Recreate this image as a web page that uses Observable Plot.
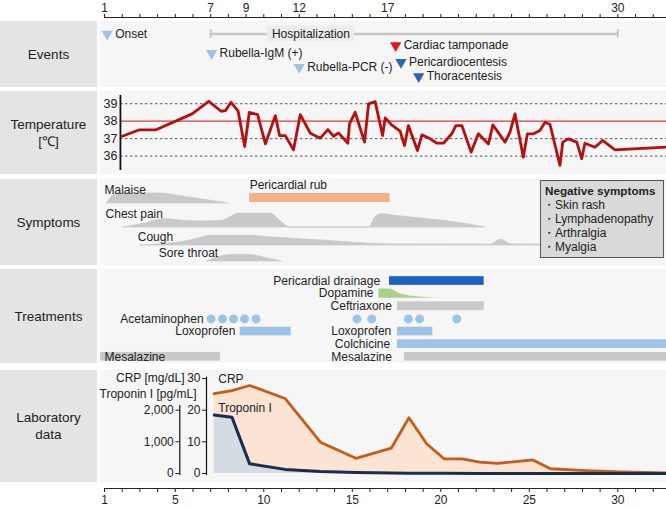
<!DOCTYPE html>
<html><head><meta charset="utf-8">
<script src="https://cdn.jsdelivr.net/npm/d3@7"></script>
<script src="https://cdn.jsdelivr.net/npm/@observablehq/plot@0.6"></script>
<style>
body{margin:0;background:#fff;font-family:"Liberation Sans",Arial,Helvetica,sans-serif;color:#222;}
#chart{position:relative;width:666px;height:508px;overflow:hidden;background:#fff;}
.lab{position:absolute;left:0;width:97px;background:#e4e4e4;display:flex;align-items:center;justify-content:center;text-align:center;font-size:13.5px;line-height:17px;color:#222;}
.bg{position:absolute;left:100px;width:566px;background:#f6f6f6;}
#neg{position:absolute;left:540px;top:180px;width:124px;height:78px;box-sizing:border-box;background:#d9d9d9;border:1px solid #555;font-size:12px;line-height:13.9px;padding:3px 0 0 4px;color:#222;}
#neg b{font-size:11.7px;}
</style></head>
<body><div id="chart"></div>
<script>
// ---------------- DATA ----------------
const topTickLabels = [1, 7, 9, 12, 17, 30];
const bottomTickLabels = [1, 5, 10, 15, 20, 25, 30];

const eventNames = ["Onset", "Rubella-IgM (+)", "Rubella-PCR (-)", "Cardiac tamponade", "Pericardiocentesis", "Thoracentesis"];
const eventDays  = [1.15, 7.05, 12.0, 17.45, 17.75, 18.75];
const eventKinds = ["test", "test", "test", "alert", "procedure", "procedure"];
const hospitalization = {label: "Hospitalization", start: 7, end: 30};

const tempDays = [2.0,2.94,3.88,5.95,6.89,7.59,7.83,8.15,8.55,8.92,9.18,9.65,10.09,10.65,10.89,11.21,11.68,12.06,12.63,13.19,13.62,13.94,14.22,14.75,14.84,15.16,15.69,15.92,16.29,16.71,16.86,17.2,17.7,17.95,18.17,18.68,18.93,19.34,19.78,20.15,20.62,20.85,21.19,21.71,22.12,22.69,22.94,23.63,23.91,24.19,24.66,24.89,25.23,25.6,25.89,26.17,26.73,26.89,27.2,27.68,27.96,28.14,28.71,29.14,29.84,32.75];
const tempValues = [37.14,37.5,37.5,38.42,39.14,38.57,38.6,39.08,38.57,36.55,38.5,38.38,36.7,38.32,37.18,37.18,36.36,38.38,37.31,37.03,37.52,37.14,37.33,36.74,37.85,38.51,36.8,38.99,39.12,37.18,38.19,37.81,37.43,36.61,37.75,36.32,37.22,37.03,36.74,36.74,37.28,37.75,37.75,36.23,37.28,36.7,37.79,36.8,37.37,38.42,35.94,37.28,37.28,37.47,37.94,37.81,35.47,36.8,36.99,36.8,35.85,36.74,36.51,36.9,36.36,36.52];
const tempTicks = [36, 37, 38, 39];
const feverThreshold = 38;

const symptomNames = ["Malaise", "Chest pain", "Cough", "Sore throat"];
const malaiseDays   = [1.15, 1.7, 4.16, 5.48, 6.42, 7.36, 8.0];
const malaiseLevels = [0, 7.1, 7.1, 4.8, 3.1, 1.2, 0];
const chestDays   = [2.09, 3.3, 4.4, 5.3, 6.5, 7.6, 8.2, 8.6, 10.4, 10.9, 11.5, 15.95, 16.3, 16.63, 17.4, 18.9, 20.9, 22.5];
const chestLevels = [0, 2.9, 6.1, 5.0, 4.3, 4.6, 7.9, 10, 10, 5, 0, 0, 7.1, 9.5, 8.4, 6.4, 3.6, 0];
const coughDays   = [3.03, 4.5, 5.5, 6.3, 7.0, 9.2, 10.5, 12.06, 14.0, 15.8, 17.5, 22.8, 23.4, 24.0, 25.8];
const coughLevels = [0, 1.1, 2.6, 5.0, 6.9, 6.9, 5.7, 4.5, 2.9, 1.4, 0.7, 0.6, 4.1, 0.7, 0.6];
const soreDays   = [6.8, 7.5, 8.3, 9.3, 10.2, 11.0];
const soreLevels = [0, 3.2, 4.8, 4.6, 2.1, 0];
const pericardialRub = {label: "Pericardial rub", start: 9.2, end: 17.14};
const negativeSymptoms = ["Skin rash", "Lymphadenopathy", "Arthralgia", "Myalgia"];

const treatmentRows = ["Pericardial drainage", "Dopamine", "Ceftriaxone", "Acetaminophen", "Loxoprofen", "Colchicine", "Mesalazine"];
const barDrugs  = ["Pericardial drainage", "Ceftriaxone", "Loxoprofen", "Loxoprofen", "Colchicine", "Mesalazine", "Mesalazine"];
const barStarts = [17.1, 17.55, 8.67, 17.55, 17.55, 0.77, 17.95];
const barEnds   = [22.45, 22.45, 11.55, 19.55, 32.75, 7.55, 32.75];
const barKinds  = ["drainage", "gray", "blue", "blue", "blue", "gray", "gray"];
const acetaminophenDays = [7.02, 7.67, 8.29, 8.91, 9.56, 15.26, 16.1, 18.17, 18.8, 20.9];
const dopamineDays   = [16.5, 17.1, 17.7, 18.4, 19.2, 20.0];
const dopamineLevels = [1, 1, 0.5, 0.22, 0.08, 0];

const crpDays   = [7.2, 8.2, 9.2, 11.2, 13.2, 15.2, 17.2, 18.2, 19.2, 20.2, 21.2, 22.2, 23.2, 25.2, 26.2, 28.2, 30.2, 32.75];
const crpValues = [25.2, 26.2, 27.8, 23.7, 9.9, 4.8, 8.0, 17.6, 9.4, 4.6, 4.6, 3.6, 3.2, 4.3, 1.5, 0.9, 0.5, 0.2];
const tropDays   = [7.2, 8.2, 9.2, 11.2, 13.2, 15.2, 17.2, 18.2, 20.2, 22.2, 26.2, 32.75];
const tropValues = [1850, 1780, 305, 130, 60, 35, 15, 10, 5, 3, 2, 2];
const crpTicks = [0, 10, 20, 30];
const tropTicks = [0, 1000, 2000];

// ---------------- LAYOUT ----------------
const W = 666, ML = 104, XDOM = [1, 32.75];
const FONT = '"Liberation Sans", Arial, Helvetica, sans-serif';
const chart = document.getElementById("chart");
const panels = [
  {name: "Events", top: 21, h: 66},
  {name: "Temperature<br>[℃]", top: 91, h: 83},
  {name: "Symptoms", top: 179, h: 86},
  {name: "Treatments", top: 269, h: 94},
  {name: "Laboratory<br>data", top: 370, h: 112}
];
for (const p of panels) {
  const l = document.createElement("div"); l.className = "lab";
  l.style.top = p.top + "px"; l.style.height = p.h + "px"; l.innerHTML = "<span>" + p.name + "</span>";
  chart.appendChild(l);
  const b = document.createElement("div"); b.className = "bg";
  b.style.top = p.top + "px"; b.style.height = p.h + "px";
  chart.appendChild(b);
}
function place(top, opts) {
  const svg = Plot.plot(Object.assign({
    width: W, marginLeft: ML, marginRight: 0,
    style: {background: "transparent", overflow: "visible", fontFamily: FONT, fontSize: "12px", color: "#222"}
  }, opts));
  svg.style.position = "absolute"; svg.style.left = "0px"; svg.style.top = top + "px";
  chart.appendChild(svg);
}
const fmt = d3.format(",");

// Top axis
place(0, {
  height: 20, marginTop: 17, marginBottom: 3,
  x: {domain: XDOM}, y: {domain: [0, 1], axis: null},
  marks: [
    Plot.ruleY([0], {stroke: "#222", strokeWidth: 1.2}),
    Plot.axisX({anchor: "top", label: null, ticks: d3.range(1, 33), tickSize: 4, tickPadding: 2, fontSize: 12,
      tickFormat: d => topTickLabels.includes(d) ? String(d) : ""})
  ]
});

// Events
const eventLane = {"Onset": 0, "Rubella-IgM (+)": 1.52, "Rubella-PCR (-)": 2.6, "Cardiac tamponade": 0.91, "Pericardiocentesis": 2.22, "Thoracentesis": 3.33};
const eventColor = {test: "#9dc3e6", alert: "#e8141b", procedure: "#2a66b0"};
const events = eventNames.map((n, i) => ({name: n, day: eventDays[i], kind: eventKinds[i], lane: eventLane[n]}));
const hospLabelDay = 12.66, hospHalf = 2.47;
place(21, {
  height: 66, marginTop: 0, marginBottom: 0,
  x: {domain: XDOM, axis: null}, y: {domain: [-0.97, 4.19], reverse: true, axis: null},
  marks: [
    Plot.ruleY([0], {x1: hospitalization.start, x2: hospitalization.end, stroke: "#c6c6c6", strokeWidth: 2.5}),
    Plot.ruleX([hospitalization.start, hospitalization.end], {y1: -0.33, y2: 0.33, stroke: "#c6c6c6", strokeWidth: 2}),
    Plot.rect([hospitalization], {x1: hospLabelDay - hospHalf, x2: hospLabelDay + hospHalf, y1: -0.62, y2: 0.62, fill: "#ececec"}),
    Plot.text([hospitalization], {x: hospLabelDay, y: 0, text: "label", fontSize: 12, fill: "#222"}),
    Plot.dot(events, {x: "day", y: "lane", symbol: "triangle", r: 4.2, rotate: 180, fill: d => eventColor[d.kind], stroke: null}),
    Plot.text(events, {x: "day", y: "lane", text: "name", textAnchor: "start", dx: 8, fontSize: 12, fill: "#222"})
  ]
});

// Temperature
const temps = tempDays.map((d, i) => ({day: d, t: tempValues[i]}));
const TEMP_AXIS_DAY = 1.9;
place(91, {
  height: 83, marginTop: 0, marginBottom: 0,
  x: {domain: XDOM, axis: null}, y: {domain: [34.95, 39.70]},
  marks: [
    Plot.ruleY(tempTicks.filter(t => t !== feverThreshold), {x1: TEMP_AXIS_DAY, x2: XDOM[1], stroke: "#555", strokeWidth: 1, strokeDasharray: "2.5,2.5"}),
    Plot.ruleY([feverThreshold], {x1: TEMP_AXIS_DAY, x2: XDOM[1], stroke: "#e0363b", strokeWidth: 1.2}),
    Plot.ruleX([TEMP_AXIS_DAY], {y1: 35.18, y2: 39.47, stroke: "#111", strokeWidth: 1.8}),
    Plot.axisY({anchor: "left", label: null, ticks: tempTicks, tickSize: 0, tickPadding: 3, dx: 16, fontSize: 12.5, tickFormat: d => String(d)}),
    Plot.line(temps, {x: "day", y: "t", stroke: "#b50f10", strokeWidth: 2.8})
  ]
});

// Symptoms
const SYM_UNIT_MAX = 86 / 1.4;
const symBase  = {"Malaise": 44.3, "Chest pain": 27.1, "Cough": 14.3, "Sore throat": 2.9};
const symLabel = {"Malaise": [1.0, 9.5], "Chest pain": [1.06, 9.3], "Cough": [2.88, 5.6], "Sore throat": [4.07, 5.7]};
const symSeries = {
  "Malaise": [malaiseDays, malaiseLevels], "Chest pain": [chestDays, chestLevels],
  "Cough": [coughDays, coughLevels], "Sore throat": [soreDays, soreLevels]
};
const symMarks = [];
for (const s of symptomNames) {
  const [ds, ls] = symSeries[s];
  const data = ds.map((d, i) => ({day: d, level: ls[i]}));
  symMarks.push(Plot.areaY(data, {x: "day", y1: () => symBase[s], y2: d => symBase[s] + d.level, fill: "#c9c9c9", stroke: "#c9c9c9", strokeWidth: 0.8, curve: "monotone-x"}));
}
const symText = symptomNames.map(s => ({name: s, day: symLabel[s][0], y: symBase[s] + symLabel[s][1]}));
place(179, {
  height: 86, marginTop: 0, marginBottom: 0,
  x: {domain: XDOM, axis: null}, y: {domain: [0, SYM_UNIT_MAX], axis: null},
  marks: [
    ...symMarks,
    Plot.rect([pericardialRub], {x1: "start", x2: "end", y1: 45, y2: 51.4, fill: "#f4b183"}),
    Plot.text([pericardialRub], {x: "start", y: 57.4, text: "label", textAnchor: "start", fontSize: 12, fill: "#222"}),
    Plot.text(symText, {x: "day", y: "y", text: "name", textAnchor: "start", fontSize: 12, fill: "#222"})
  ]
});
const neg = document.createElement("div"); neg.id = "neg";
neg.innerHTML = "<b>Negative symptoms</b><br>" + negativeSymptoms.map(s => "<span style='margin-left:-2px'>・</span>" + s).join("<br>");
chart.appendChild(neg);

// Treatments
const rowOf = n => treatmentRows.indexOf(n);
const kindColor = {drainage: "#1a63bd", gray: "#c9c9c9", blue: "#9dc3e6"};
const bars = barDrugs.map((n, i) => ({name: n, row: rowOf(n), start: barStarts[i], end: barEnds[i], kind: barKinds[i]}));
const acet = acetaminophenDays.map(d => ({day: d, row: rowOf("Acetaminophen")}));
const dop = dopamineDays.map((d, i) => ({day: d, level: dopamineLevels[i]}));
const HB = 0.345;
const treatLabels = [
  {text: "Pericardial drainage", day: 16.57, anchor: "end"},
  {text: "Dopamine", day: 16.2, anchor: "end"},
  {text: "Ceftriaxone", day: 17.24, anchor: "end"},
  {text: "Acetaminophen", day: 6.6, anchor: "end"},
  {text: "Loxoprofen", day: 8.39, anchor: "end"},
  {text: "Loxoprofen", day: 17.2, anchor: "end"},
  {text: "Colchicine", day: 17.14, anchor: "end"},
  {text: "Mesalazine", day: 1.0, anchor: "start"},
  {text: "Mesalazine", day: 17.24, anchor: "end"}
].map(d => ({...d, row: rowOf(d.text)}));
place(269, {
  height: 95, marginTop: 5.2, marginBottom: 1.4,
  x: {domain: XDOM, axis: null}, y: {domain: [-0.5, 6.5], reverse: true, axis: null},
  marks: [
    Plot.rect(bars, {x1: "start", x2: "end", y1: d => d.row - HB, y2: d => d.row + HB, fill: d => kindColor[d.kind]}),
    Plot.areaY(dop, {x: "day", y1: () => rowOf("Dopamine") + 0.37, y2: d => rowOf("Dopamine") + 0.37 - d.level * 0.74, fill: "#a9d18e", curve: "monotone-x"}),
    Plot.dot(acet, {x: "day", y: "row", r: 4.5, fill: "#9dc3e6", stroke: null}),
    Plot.text(treatLabels.filter(d => d.anchor === "end"), {x: "day", y: "row", text: "text", textAnchor: "end", fontSize: 12, fill: "#222"}),
    Plot.text(treatLabels.filter(d => d.anchor === "start"), {x: "day", y: "row", text: "text", textAnchor: "start", fontSize: 12, fill: "#222"})
  ]
});

// Laboratory data
const crp = crpDays.map((d, i) => ({day: d, v: crpValues[i]}));
const TROP_PER_UNIT = 100;
const trop = tropDays.map((d, i) => ({day: d, v: tropValues[i] / TROP_PER_UNIT}));
place(370, {
  height: 112, marginTop: 0, marginBottom: 0,
  x: {domain: XDOM, axis: null}, y: {domain: [-2.84, 32.53]},
  marks: [
    Plot.areaY(crp, {x: "day", y: "v", fill: "#fbe4d4"}),
    Plot.areaY(trop, {x: "day", y: "v", fill: "#d5dbe3"}),
    Plot.line(crp, {x: "day", y: "v", stroke: "#c55c17", strokeWidth: 2.8}),
    Plot.line(trop, {x: "day", y: "v", stroke: "#1d2b4d", strokeWidth: 3}),
    Plot.ruleX([1], {y1: -0.6, y2: 30.4, dx: 102, stroke: "#111", strokeWidth: 1.2}),
    Plot.ruleX([1], {y1: -0.6, y2: 21.5, dx: 75.3, stroke: "#111", strokeWidth: 1.2}),
    Plot.axisY({anchor: "left", label: null, ticks: crpTicks, tickSize: 4, tickPadding: 2, dx: 102, fontSize: 12, tickFormat: d => String(d)}),
    Plot.axisY({anchor: "left", label: null, ticks: tropTicks.map(t => t / TROP_PER_UNIT), tickSize: 4, tickPadding: 2, dx: 75.3, fontSize: 12,
      tickFormat: d => fmt(Math.round(d * TROP_PER_UNIT))}),
    Plot.text(["CRP [mg/dL]"], {x: 1, y: 30, dx: 80, text: d => d, textAnchor: "end", fontSize: 12, fill: "#222"}),
    Plot.text(["Troponin I [pg/mL]"], {x: 1, y: 24.95, dx: 92, text: d => d, textAnchor: "end", fontSize: 12, fill: "#222"}),
    Plot.text(["CRP"], {x: crpDays[0], y: 29.8, dx: 4, text: d => d, textAnchor: "start", fontSize: 12, fill: "#222"}),
    Plot.text(["Troponin I"], {x: tropDays[0], y: 20.6, dx: 4, text: d => d, textAnchor: "start", fontSize: 12, fill: "#222"})
  ]
});

// Bottom axis
place(482, {
  height: 26, marginTop: 6, marginBottom: 20,
  x: {domain: XDOM}, y: {domain: [0, 1], axis: null},
  marks: [
    Plot.ruleY([0], {stroke: "#222", strokeWidth: 1.2}),
    Plot.axisX({anchor: "bottom", label: null, ticks: d3.range(1, 33), tickSize: 4, tickPadding: 3, fontSize: 12,
      tickFormat: d => bottomTickLabels.includes(d) ? String(d) : ""})
  ]
});
</script></body></html>
